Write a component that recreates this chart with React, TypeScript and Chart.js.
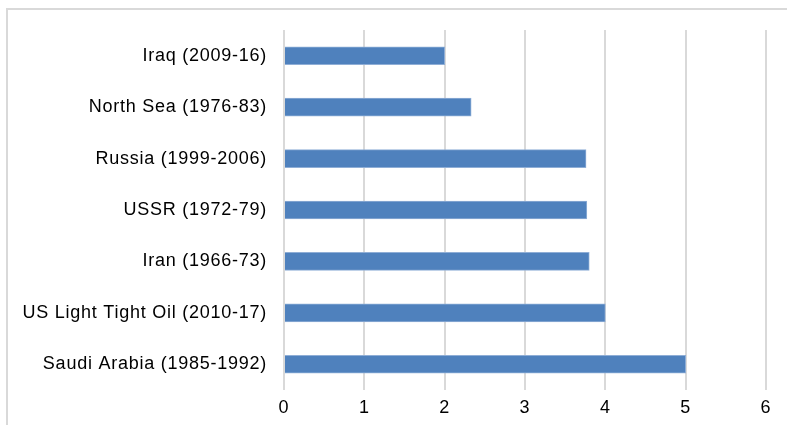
import React, { useEffect, useRef } from "react";
import { Chart, registerables } from "chart.js";

Chart.register(...registerables);

const categories = [
  "Iraq (2009-16)",
  "North Sea (1976-83)",
  "Russia (1999-2006)",
  "USSR (1972-79)",
  "Iran (1966-73)",
  "US Light Tight Oil (2010-17)",
  "Saudi Arabia (1985-1992)",
];
const values = [2.0, 2.33, 3.76, 3.77, 3.8, 4.0, 5.0];
const xMin = 0;
const xMax = 6;
const xStep = 1;

const FONT = "'Liberation Sans', Arial, sans-serif";

const framePlugin = {
  id: "frame",
  beforeDraw(chart: any) {
    const ctx = chart.ctx;
    ctx.save();
    ctx.fillStyle = "#d9d9d9";
    ctx.fillRect(6, 8, 2, chart.height);
    ctx.fillRect(6, 8, chart.width, 2);
    ctx.restore();
    try {
      (ctx as any).letterSpacing = "0.75px";
    } catch (e) {}
  },
};

export default function App() {
  const ref = useRef<HTMLCanvasElement | null>(null);
  useEffect(() => {
    if (!ref.current) return;
    const chart = new Chart(ref.current, {
      type: "bar",
      data: {
        labels: categories,
        datasets: [
          {
            data: values,
            backgroundColor: "#4F81BD",
            borderColor: "#8FAED6",
            borderWidth: 1,
            barThickness: 18,
          },
        ],
      },
      options: {
        indexAxis: "y",
        animation: false,
        responsive: false,
        devicePixelRatio: 1,
        layout: { padding: { left: 0, right: 21, top: 30, bottom: 0 } },
        plugins: { legend: { display: false }, tooltip: { enabled: false } },
        scales: {
          x: {
            min: xMin,
            max: xMax,
            ticks: {
              stepSize: xStep,
              color: "#000",
              padding: 7,
              font: { family: FONT, size: 18 },
              maxRotation: 0,
            },
            grid: { color: "#d9d9d9", lineWidth: 2, drawTicks: false },
            border: { display: false },
            afterFit(scale: any) {
              scale.height = 35;
            },
          },
          y: {
            ticks: {
              color: "#000",
              padding: 17,
              font: { family: FONT, size: 18 },
            },
            grid: { display: false, drawTicks: false },
            border: { display: false },
            afterFit(scale: any) {
              scale.width = 284;
            },
          },
        },
      },
      plugins: [framePlugin],
    } as any);
    return () => chart.destroy();
  }, []);
  return (
    <div style={{ position: "absolute", left: 0, top: 0, width: 787, height: 425, background: "#fff" }}>
      <canvas ref={ref} width={787} height={425} style={{ display: "block", width: 787, height: 425 }} />
    </div>
  );
}
